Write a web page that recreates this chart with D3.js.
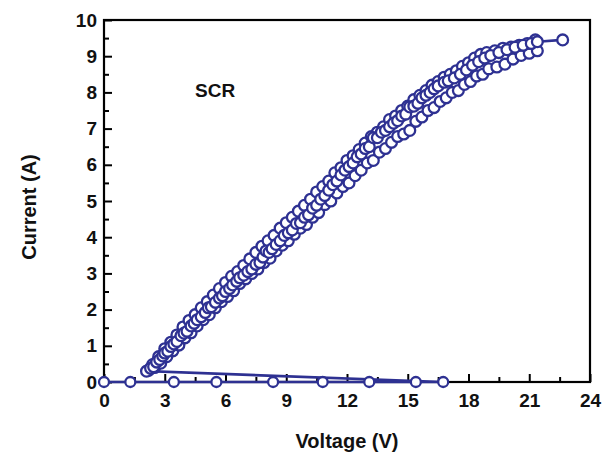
<!DOCTYPE html>
<html lang="en">
<head>
  <meta charset="UTF-8">
  <title>SCR I-V</title>
  <script src="https://d3js.org/d3.v7.min.js"></script>
  <style>
    body { margin: 0; background: #fff; }
    text { font-family: "Liberation Sans", Arial, sans-serif; font-weight: bold; }
    .axis path { display: none; }
    .axis line { stroke: #000; stroke-width: 2px; }
    .axis text { font-size: 19px; fill: #111; }
  </style>
</head>
<body>
  <div id="chart"></div>
  <script>
    // off-state sweep (voltage rises, current stays ~0)
    const offV = [0, 1.3, 3.45, 5.55, 8.35, 10.8, 13.1, 15.4, 16.75];
    const offI = [0, 0, 0, 0, 0, 0, 0, 0, 0];

    // on-state traces after snap-back (three overlapping sweeps)
    const onA = [
      [2.1,0.30],[2.3,0.38],[2.45,0.42],[2.6,0.55],[2.75,0.62],[2.9,0.72],[3.0,0.80],[3.15,0.85],
      [3.3,0.98],[3.45,1.05],[3.6,1.12],[3.8,1.28],[3.95,1.35],[4.1,1.40],[4.3,1.55],[4.45,1.62],
      [4.6,1.72],[4.8,1.80],[5.0,1.92],[5.15,2.05],[5.3,2.08],[5.5,2.20],[5.7,2.32],[5.85,2.38],
      [6.0,2.50],[6.2,2.58],[6.35,2.68],[6.55,2.78],[6.7,2.88],[6.9,2.95],[7.1,3.05],[7.3,3.12],
      [7.5,3.25],[7.7,3.30],[7.85,3.45],[8.0,3.62],[8.15,3.58],[8.3,3.68],[8.5,3.80],[8.7,3.90],
      [8.9,4.05],[9.1,4.12],[9.3,4.20],[9.5,4.38],[9.7,4.40],[9.9,4.55],[10.1,4.62],[10.3,4.80],
      [10.5,4.88],[10.7,5.05],[10.9,5.15],[11.1,5.30],[11.3,5.45],[11.5,5.55],[11.7,5.72],[11.9,5.85],
      [12.1,5.95],[12.3,6.05],[12.5,6.22],[12.7,6.30],[12.9,6.45],[13.1,6.50],[13.3,6.75],[13.5,6.75],
      [13.7,6.90],[13.9,6.95],[14.1,7.05],[14.3,7.15],[14.5,7.22],[14.7,7.35],[14.9,7.40],[15.1,7.60],
      [15.3,7.62],[15.5,7.70],[15.7,7.85],[15.9,7.92],[16.1,8.00],[16.3,8.10],[16.5,8.18],[16.8,8.28],
      [17.0,8.32],[17.3,8.40],[17.6,8.50],[17.9,8.62],[18.2,8.75],[18.5,8.85],[18.8,8.95],[19.1,9.02],
      [19.5,9.10],[19.9,9.18],[20.3,9.25],[20.7,9.30],[21.1,9.35],[21.4,9.40],[22.65,9.45]
    ];
    const onB = [
      [2.2,0.32],[2.5,0.40],[2.8,0.52],[3.1,0.70],[3.4,0.86],[3.7,1.02],[4.0,1.22],[4.3,1.36],
      [4.6,1.55],[4.9,1.72],[5.2,1.86],[5.5,2.05],[5.8,2.22],[6.1,2.36],[6.4,2.52],[6.7,2.72],
      [7.0,2.85],[7.3,3.00],[7.6,3.12],[7.9,3.30],[8.2,3.42],[8.5,3.62],[8.8,3.78],[9.1,3.90],
      [9.4,4.08],[9.7,4.25],[10.0,4.35],[10.3,4.55],[10.6,4.68],[10.9,4.90],[11.2,5.00],[11.5,5.22],
      [11.8,5.40],[12.1,5.50],[12.4,5.70],[12.7,5.85],[13.0,6.05],[13.3,6.12],[13.6,6.35],[13.9,6.45],
      [14.2,6.62],[14.5,6.78],[14.8,6.85],[15.1,6.95],[15.4,7.20],[15.7,7.32],[16.0,7.50],[16.3,7.58],
      [16.6,7.75],[16.9,7.85],[17.2,8.00],[17.5,8.05],[17.8,8.22],[18.1,8.30],[18.4,8.45],[18.7,8.50],
      [19.0,8.65],[19.4,8.70],[19.8,8.78],[20.2,8.92],[20.6,9.02],[21.0,9.08],[21.4,9.15]
    ];
    const onC = [
      [2.4,0.48],[2.7,0.70],[3.0,0.92],[3.3,1.10],[3.6,1.30],[3.9,1.52],[4.2,1.70],[4.5,1.86],
      [4.8,2.05],[5.1,2.22],[5.4,2.40],[5.7,2.58],[6.0,2.75],[6.3,2.92],[6.6,3.05],[6.9,3.22],
      [7.2,3.40],[7.5,3.58],[7.8,3.75],[8.1,3.90],[8.4,4.05],[8.7,4.25],[9.0,4.40],[9.3,4.55],
      [9.6,4.72],[9.9,4.88],[10.2,5.05],[10.5,5.25],[10.8,5.40],[11.1,5.55],[11.4,5.78],[11.7,5.92],
      [12.0,6.12],[12.3,6.25],[12.6,6.42],[12.9,6.60],[13.2,6.78],[13.5,6.90],[13.8,7.05],[14.1,7.25],
      [14.4,7.35],[14.7,7.50],[15.0,7.62],[15.3,7.80],[15.6,7.92],[15.9,8.05],[16.2,8.20],[16.5,8.30],
      [16.8,8.42],[17.1,8.50],[17.4,8.60],[17.7,8.72],[18.0,8.82],[18.3,8.95],[18.6,9.05],[18.9,9.10],
      [19.3,9.15],[19.7,9.22],[20.1,9.25],[20.5,9.30],[20.9,9.35],[21.3,9.45]
    ];

    const xTicks = [0, 3, 6, 9, 12, 15, 18, 21, 24];
    const yTicks = [0, 1, 2, 3, 4, 5, 6, 7, 8, 9, 10];

    const blue = "#2e3192";
    const W = 605, H = 458;
    const margin = { top: 20, right: 15, bottom: 76, left: 104 };
    const width = W - margin.left - margin.right;
    const height = H - margin.top - margin.bottom;

    const svg = d3.select("#chart").append("svg")
      .attr("width", W).attr("height", H);
    const g = svg.append("g")
      .attr("transform", `translate(${margin.left},${margin.top})`);

    const x = d3.scaleLinear().domain([0, 24]).range([0, width]);
    const y = d3.scaleLinear().domain([0, 10]).range([height, 0]);

    // minor ticks
    g.append("g").attr("class", "axis")
      .attr("transform", `translate(0,${height})`)
      .call(d3.axisBottom(x).tickValues(d3.range(1.5, 24, 3)).tickSize(-5).tickFormat(""));
    g.append("g").attr("class", "axis")
      .call(d3.axisLeft(y).tickValues(d3.range(0.5, 10, 1)).tickSize(-5).tickFormat(""));

    // major ticks with labels
    g.append("g").attr("class", "axis")
      .attr("transform", `translate(0,${height})`)
      .call(d3.axisBottom(x).tickValues(xTicks).tickSize(-8).tickPadding(12).tickFormat(d3.format("d")));
    g.append("g").attr("class", "axis")
      .call(d3.axisLeft(y).tickValues(yTicks).tickSize(-8).tickPadding(7).tickFormat(d3.format("d")));

    // frame
    g.append("rect")
      .attr("width", width).attr("height", height)
      .attr("fill", "none").attr("stroke", "#000").attr("stroke-width", 2.2);

    const line = d3.line().x(d => x(d[0])).y(d => y(d[1]));
    const offPts = offV.map((v, i) => [v, offI[i]]);

    // off sweep then snap-back into the first on trace
    g.append("path")
      .datum(offPts.concat(onA))
      .attr("fill", "none").attr("stroke", blue).attr("stroke-width", 2.6)
      .attr("d", line);
    [onB, onC].forEach(tr => {
      g.append("path").datum(tr)
        .attr("fill", "none").attr("stroke", blue).attr("stroke-width", 2.6)
        .attr("d", line);
    });

    const allPts = onB.concat(onC, onA);
    g.selectAll(".pt")
      .data(allPts)
      .enter().append("circle")
      .attr("class", "pt")
      .attr("cx", d => x(d[0]))
      .attr("cy", d => y(d[1]))
      .attr("r", 5.4)
      .attr("fill", "#fff").attr("stroke", blue).attr("stroke-width", 2.3);

    g.selectAll(".off")
      .data(offPts)
      .enter().append("circle")
      .attr("class", "off")
      .attr("cx", d => x(d[0]))
      .attr("cy", d => y(d[1]))
      .attr("r", 5)
      .attr("fill", "#fff").attr("stroke", blue).attr("stroke-width", 2.3);

    // labels
    svg.append("text")
      .attr("x", 195).attr("y", 97)
      .attr("font-size", "19px").attr("fill", "#111")
      .text("SCR");

    svg.append("text")
      .attr("text-anchor", "middle")
      .attr("x", margin.left + width / 2).attr("y", 448)
      .attr("font-size", "20px").attr("fill", "#111")
      .text("Voltage (V)");

    svg.append("text")
      .attr("text-anchor", "middle")
      .attr("transform", "rotate(-90)")
      .attr("x", -207).attr("y", 36)
      .attr("font-size", "20px").attr("fill", "#111")
      .text("Current (A)");
  </script>
</body>
</html>
